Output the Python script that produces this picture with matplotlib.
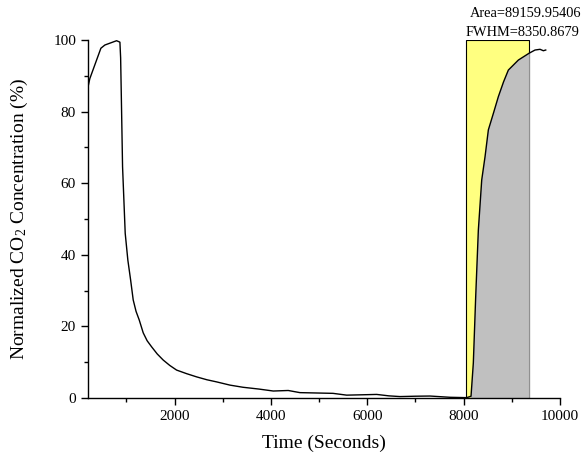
# CO2 breakthrough curve with peak area / FWHM marker
import numpy as np
import matplotlib
matplotlib.use('Agg')
import matplotlib.pyplot as plt
from matplotlib.ticker import MultipleLocator
from matplotlib.patches import Rectangle

plt.rcParams['font.family'] = ['Liberation Serif', 'DejaVu Serif']
plt.rcParams['mathtext.fontset'] = 'custom'
plt.rcParams['mathtext.rm'] = 'Liberation Serif'
plt.rcParams['mathtext.it'] = 'Liberation Serif:italic'

# Normalized concentration curve
time_s = [195, 240, 470, 553, 796, 865, 880, 900, 920, 975, 1030, 1087, 1141, 1200,
          1266, 1349, 1430, 1523, 1640, 1764, 1900, 2042, 2250, 2458, 2670, 2873,
          3150, 3420, 3750, 4050, 4360, 4603, 4950, 5290, 5573, 5900, 6196, 6450,
          6680, 7000, 7303, 7719, 8065, 8155, 8203, 8252, 8307, 8377, 8446, 8515,
          8619, 8723, 8830, 8930, 9138, 9360, 9484, 9588, 9657, 9706]
conc = [86.4, 89.2, 97.7, 98.6, 99.8, 99.4, 95.0, 80.0, 64.6, 46.0, 38.5, 33.0, 27.4,
        24.2, 21.8, 18.2, 16.0, 14.3, 12.3, 10.6, 9.1, 7.8, 6.8, 5.9, 5.1, 4.5,
        3.6, 3.0, 2.5, 1.95, 2.1, 1.5, 1.4, 1.3, 0.8, 0.9, 1.0, 0.6,
        0.4, 0.5, 0.55, 0.2, 0.1, 0.5, 9.8, 28.3, 46.9, 60.9, 67.4, 74.9,
        79.5, 84.2, 88.3, 91.6, 94.4, 96.3, 97.2, 97.4, 97.0, 97.2]

# peak marker
rect_x0 = 8045
rect_x1 = 9360
rect_top = 100
fill_start = 8155
area_text = 'Area=89159.95406'
fwhm_text = 'FWHM=8350.8679'

time_s = np.array(time_s)
conc = np.array(conc)

fig = plt.figure(figsize=(5.82, 4.53), dpi=100)
ax = fig.add_axes([0.151, 0.1214, 0.811, 0.7903])

ax.add_patch(Rectangle((rect_x0, 0), rect_x1 - rect_x0, rect_top,
                       facecolor='#ffff80', edgecolor='black', linewidth=0.8, zorder=1))
m = (time_s >= fill_start) & (time_s <= rect_x1)
ax.fill_between(time_s[m], 0, conc[m], facecolor='#c0c0c0', edgecolor='none', zorder=2)
ax.plot([rect_x1, rect_x1], [0, conc[m][-1]], color='#909090', linewidth=0.8, zorder=2)

ax.plot(time_s, conc, color='black', linewidth=1.0, zorder=3)

# reference clips these at the right edge; kept just inside so they stay readable
ax.text(8134, 107.3, area_text, ha='left', va='center', fontsize=10.4, clip_on=False)
ax.text(8051, 102.0, fwhm_text, ha='left', va='center', fontsize=10.4, clip_on=False)

ax.set_xlim(200, 10000)
ax.set_ylim(0, 100)
ax.xaxis.set_major_locator(MultipleLocator(2000))
ax.xaxis.set_minor_locator(MultipleLocator(1000))
ax.yaxis.set_major_locator(MultipleLocator(20))
ax.yaxis.set_minor_locator(MultipleLocator(10))
ax.tick_params(which='major', length=5, width=1, labelsize=11, direction='out')
ax.tick_params(which='minor', length=3, width=1, direction='out')

for s in ['top', 'right']:
    ax.spines[s].set_visible(False)
for s in ['left', 'bottom']:
    ax.spines[s].set_linewidth(1.0)

ax.set_xlabel('Time (Seconds)', fontsize=14, va='center')
ax.set_ylabel('Normalized CO$_2$ Concentration (%)', fontsize=14, va='center')
ax.xaxis.set_label_coords(0.5, -0.128)
ax.yaxis.set_label_coords(-0.146, 0.5)

fig.savefig('out.png', dpi=100)
